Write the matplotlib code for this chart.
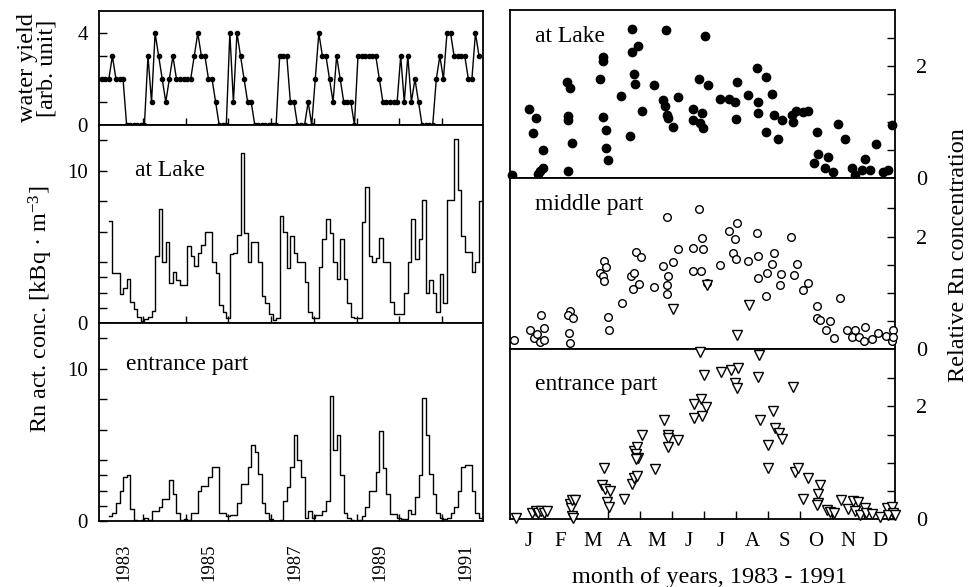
import matplotlib
matplotlib.use("Agg")
import matplotlib.pyplot as plt
import numpy as np
from matplotlib.ticker import FixedLocator, FixedFormatter

plt.rcParams['font.family'] = ['Liberation Serif', 'DejaVu Serif']
plt.rcParams['mathtext.fontset'] = 'custom'
plt.rcParams['mathtext.rm'] = 'Liberation Serif'
plt.rcParams['mathtext.it'] = 'Liberation Serif:italic'
plt.rcParams['axes.linewidth'] = 1.3

# ---------------- data ----------------
start_year = 1983
# monthly values, index 0 = Jan 1983
water_yield = [2,2,2,2, 3, 2,2,2, 0,0,0,0,0,0, 3, 1, 4, 3, 2, 1, 2, 3, 2,2,2,2,2, 3, 4, 3,3, 2,2, 1,
               0,0,0, 4, 1, 4, 3, 2, 1,1, 0,0,0,0,0,0,0, 3,3,3, 1,1, 0,0,0, 1, 0, 2, 4, 3,3, 2, 1, 3, 2,
               1,1,1, 0, 3,3,3,3,3,3, 2, 1,1,1,1,1, 3, 1, 3, 1, 2, 1, 0,0,0,0, 2, 3, 2, 4,4, 3,3,3,3, 2,2, 4, 3]

lake_start = 3
lake_conc = [6.7, 3.3, 3.3, 1.9, 2.3, 2.9, 1.4, 0.9, 0.4, 0.13, 0.25, 0.4, 0.8,
             4.4, 7.5, 4.0, 5.3, 2.65, 3.35, 2.8, 2.5, 2.5, 5.05, 4.4, 3.75, 4.6, 5.1, 6.0, 6.0,
             4.0, 3.3, 1.2, 0.7, 0.3, 4.5, 4.6, 5.75, 11.15, 5.9, 4.0, 5.3, 5.3, 4.0, 1.8, 1.3,
             0.6, 0.2, 0.3, 7.0, 6.0, 3.6, 5.7, 4.6, 4.0, 4.0, 2.7, 0.7, 0.3, 0.3, 3.7, 5.5, 6.8,
             5.9, 4.0, 2.9, 5.5, 2.9, 1.3, 0.4, 0.3, 0.3, 6.6, 8.9, 4.4, 4.0, 4.3, 5.6, 4.0, 4.0,
             1.35, 0.6, 0.6, 0.6, 2.0, 4.0, 6.85, 4.2, 5.5, 8.1, 2.0, 2.8, 2.0, 0.7, 3.25, 1.3,
             8.1, 8.1, 12.1, 8.75, 5.7, 4.65, 4.65, 3.35, 4.0, 8.0]

entrance_start = 3
entrance_conc = [0.3, 0.55, 1.2, 2.0, 2.9, 3.0, 0.8, 0.05, 0.0, 0.05, 0.2, 0.05, 0.65, 0.65,
                 0.9, 1.45, 1.45, 2.7, 1.8, 0.55, 0.05, 0.1, 0.05, 0.55, 0.55, 2.0, 2.3, 2.3,
                 2.9, 3.55, 3.55, 0.55, 0.5, 0.35, 0.4, 0.4, 1.2, 2.45, 2.45, 3.55, 5.0, 4.55,
                 3.1, 1.2, 0.55, 0.1, 0.02, 0.02, 0.05, 1.3, 2.2, 3.55, 5.65, 4.0, 2.9, 0.2,
                 0.65, 0.2, 0.4, 0.4, 0.65, 1.3, 8.2, 4.65, 5.65, 3.0, 0.55, 0.2, 0.05, 0.0,
                 0.05, 0.35, 0.9, 2.0, 2.0, 3.2, 5.9, 3.45, 1.8, 0.45, 0.45, 0.2, 0.1, 0.1,
                 0.7, 0.45, 1.55, 3.0, 8.1, 5.65, 3.1, 1.8, 0.55, 0.2, 0.1, 0.2, 0.55, 0.9,
                 2.0, 3.55, 3.65, 3.65, 2.0, 0.55, 0.2]

year_labels = ['1983', '1985', '1987', '1989', '1991']
month_labels = ['J', 'F', 'M', 'A', 'M', 'J', 'J', 'A', 'S', 'O', 'N', 'D']

# (month position 0..12, relative concentration)
rel_lake = [(-0.03,0.06),(0.52,1.23),(0.73,1.07),(0.63,0.80),(0.96,0.50),(0.81,0.08),(0.96,0.17),
            (0.86,0.12),(1.70,1.71),(1.80,1.61),(1.75,1.10),(1.75,1.04),(1.85,0.62),(1.75,0.12),
            (2.74,1.76),(2.84,2.15),(2.84,2.09),(2.84,1.08),(2.92,0.86),(2.92,0.54),(2.98,0.32),
            (3.40,1.46),(3.73,2.65),(3.73,2.24),(3.94,2.35),(3.81,1.85),(3.83,1.67),(3.69,0.75),
            (4.04,1.20),(4.43,1.65),(4.79,2.63),(4.70,1.38),(4.77,1.28),(4.82,1.13),(4.85,1.07),
            (5.01,0.90),(5.17,1.44),(5.64,1.23),(5.66,1.04),(5.82,1.77),(5.92,1.16),(5.87,0.98),
            (5.97,0.89),(6.03,2.52),(6.11,1.65),(6.49,1.40),(6.76,1.40),(6.96,1.35),(7.00,1.05),
            (7.02,1.70),(7.38,1.47),(7.66,1.95),(7.93,1.80),(7.69,1.35),(7.67,1.16),(7.92,0.81),
            (8.11,1.50),(8.19,1.13),(8.42,1.04),(8.32,0.69),(8.74,1.13),(8.86,1.19),(8.79,0.99),
            (9.10,1.17),(9.24,1.19),(9.52,0.81),(9.42,0.27),(9.55,0.42),(9.78,0.18),(9.88,0.38),
            (10.04,0.10),(10.20,0.96),(10.41,0.69),(10.62,0.18),(10.72,0.05),(11.03,0.33),
            (10.93,0.14),(11.19,0.14),(11.37,0.60),(11.61,0.10),(11.76,0.14),(11.89,0.95)]

rel_middle = [(4.83,2.35),(5.82,2.49),(6.78,2.09),(7.04,2.24),(5.92,1.98),(6.96,1.95),(7.66,2.07),
              (8.72,2.00),(5.19,1.78),(5.66,1.80),(5.95,1.77),(3.86,1.73),(4.02,1.64),(6.91,1.71),
              (8.19,1.70),(7.69,1.66),(4.72,1.48),(5.01,1.54),(6.98,1.60),(7.36,1.57),(6.49,1.49),
              (8.89,1.51),(2.86,1.57),(2.92,1.45),(2.74,1.36),(2.84,1.29),(2.86,1.21),(3.71,1.29),
              (3.81,1.35),(3.78,1.06),(3.97,1.15),(4.44,1.11),(4.85,1.30),(4.83,1.14),(4.83,0.97),
              (5.66,1.38),(5.90,1.38),(6.08,1.17),(7.67,1.26),(7.95,1.36),(8.13,1.51),(8.40,1.34),
              (8.37,1.13),(8.82,1.32),(9.08,1.05),(9.24,1.17),(7.92,0.95),(3.42,0.81),(2.98,0.57),
              (3.02,0.34),(9.52,0.77),(9.52,0.56),(9.62,0.51),(9.94,0.50),(10.25,0.91),(9.80,0.33),
              (10.07,0.19),(10.46,0.33),(10.72,0.33),(11.03,0.40),(10.62,0.22),(10.83,0.22),
              (11.01,0.15),(11.24,0.17),(11.45,0.28),(11.69,0.23),(11.87,0.14),(11.92,0.34),
              (11.92,0.22),(0.03,0.16),(0.55,0.34),(0.67,0.19),(0.78,0.26),(0.86,0.13),(0.89,0.60),
              (0.99,0.37),(0.99,0.16),(1.78,0.28),(1.80,0.10),(1.80,0.68),(1.75,0.60),(1.90,0.56)]

rel_entrance = [(0.10,0.02),(0.62,0.10),(0.73,0.15),(0.81,0.10),(0.89,0.15),(0.99,0.10),(1.07,0.15),
                (1.80,0.26),(1.83,0.19),(1.85,0.33),(1.96,0.33),(1.85,0.06),(1.90,0.02),(2.87,0.90),
                (2.81,0.60),(2.89,0.53),(3.05,0.49),(2.95,0.31),(3.02,0.21),(3.50,0.35),(3.81,1.21),
                (3.89,1.28),(3.86,1.16),(3.94,1.08),(3.86,1.07),(4.04,1.50),(3.73,0.63),(3.81,0.73),
                (3.89,0.77),(4.46,0.89),(4.75,1.76),(4.86,1.50),(4.88,1.44),(4.86,1.28),(5.19,1.40),
                (5.69,2.04),(5.89,2.14),(6.07,1.99),(5.69,1.79),(5.92,1.83),(5.99,2.55),(5.87,2.96),
                (6.53,2.62),(6.84,2.64),(7.07,2.69),(6.96,2.41),(7.01,2.32),(7.72,2.91),(7.69,2.53),
                (7.74,1.76),(8.16,1.91),(8.21,1.61),(8.34,1.52),(8.44,1.43),(7.99,1.31),(7.99,0.90),
                (8.79,2.35),(8.84,0.84),(8.94,0.91),(9.26,0.73),(9.62,0.61),(9.08,0.35),(9.55,0.44),
                (9.57,0.28),(9.52,0.25),(9.83,0.16),(9.94,0.13),(10.07,0.10),(10.28,0.33),(10.49,0.17),
                (10.67,0.32),(10.80,0.30),(10.72,0.14),(10.87,0.07),(11.03,0.19),(11.06,0.10),
                (11.24,0.08),(11.50,0.04),(11.71,0.19),(11.87,0.22),(11.92,0.10),(11.74,0.07),
                (11.97,0.07),(5.01,3.73),(6.08,4.16),(7.40,3.80),(7.04,3.26)]

# ---------------- figure ----------------
W, H = 969, 587
fig = plt.figure(figsize=(W / 100, H / 100), dpi=100)
fig.patch.set_facecolor('white')


def add_px(x0, y0, x1, y1):
    return fig.add_axes([x0 / W, 1 - y1 / H, (x1 - x0) / W, (y1 - y0) / H])


TICK_FS = 15
LBL_FS = 17.5
IN_FS = 17

ax_wy = add_px(99, 11, 483, 125)
ax_lk = add_px(99, 125, 483, 323)
ax_en = add_px(99, 323, 483, 521)
ax_rl = add_px(510, 10, 895, 178)
ax_rm = add_px(510, 178, 895, 349)
ax_re = add_px(510, 349, 895, 519)


def month_x(start, n):
    return start_year + (np.arange(start, start + n) - 0.6) / 12.0


# water yield
xw = month_x(0, len(water_yield))
ax_wy.plot(xw, water_yield, '-', color='k', lw=1.0, marker='o', ms=3, clip_on=True)
ax_wy.set_ylim(0, 4.96)
ax_wy.yaxis.set_major_locator(FixedLocator([0, 1, 2, 3, 4]))
ax_wy.yaxis.set_major_formatter(FixedFormatter(['0', '', '', '', '4']))

# step series
for ax, start, vals in [(ax_lk, lake_start, lake_conc), (ax_en, entrance_start, entrance_conc)]:
    xs = month_x(start, len(vals) + 1)
    ys = list(vals) + [vals[-1]]
    ax.step(xs, ys, where='post', color='k', lw=1.0)
    ax.set_ylim(0, 13.0)
    ax.yaxis.set_major_locator(FixedLocator([0, 1, 2, 3, 4, 6, 8, 10, 12]))
    ax.yaxis.set_major_formatter(FixedFormatter(['0', '', '', '', '', '', '', '10', '']))

for ax in (ax_wy, ax_lk, ax_en):
    ax.set_xlim(1982.97, 1991.96)
    ax.xaxis.set_major_locator(FixedLocator(list(range(1984, 1992))))
    ax.tick_params(axis='x', which='major', direction='in', length=5, width=1.0, labelbottom=False)
    ax.tick_params(axis='y', which='major', direction='in', length=6, width=1.0,
                   labelsize=TICK_FS, pad=8)

ax_en.xaxis.set_minor_locator(FixedLocator([int(y) + 0.55 for y in year_labels]))
ax_en.xaxis.set_minor_formatter(FixedFormatter(year_labels))
ax_en.tick_params(axis='x', which='minor', length=0, labelsize=13.5, pad=16, labelrotation=90)

ax_lk.text(0.094, 0.742, 'at Lake', transform=ax_lk.transAxes, fontsize=IN_FS, va='baseline')
ax_en.text(0.070, 0.763, 'entrance part', transform=ax_en.transAxes, fontsize=IN_FS, va='baseline')

# right panels
panels = [(ax_rl, rel_lake, dict(marker='o', ms=6, mfc='k', mec='k'), 2.99, 'at Lake', 0.808),
          (ax_rm, rel_middle, dict(marker='o', ms=5.5, mfc='white', mec='k', mew=1.0), 3.04,
           'middle part', 0.813),
          (ax_re, rel_entrance, dict(marker='v', ms=6.5, mfc='white', mec='k', mew=1.0), 3.02,
           'entrance part', 0.759)]
for ax, pts, style, ytop, title, ty in panels:
    m = [p[0] for p in pts]
    v = [p[1] for p in pts]
    ax.plot(m, v, linestyle='none', clip_on=False, zorder=3, **style)
    ax.set_xlim(-0.08, 11.97)
    ax.set_ylim(0, ytop)
    ax.yaxis.tick_right()
    ax.yaxis.set_major_locator(FixedLocator([0, 0.5, 1, 1.5, 2, 2.5]))
    ax.yaxis.set_major_formatter(FixedFormatter(['0', '', '', '', '2', '']))
    ax.tick_params(axis='y', direction='in', length=6, width=1.0, labelsize=16, pad=15)
    ax.set_xticks([])
    ax.text(0.066, ty, title, transform=ax.transAxes, fontsize=IN_FS, va='baseline')

ax_re.xaxis.set_major_locator(FixedLocator(list(range(1, 12))))
ax_re.xaxis.set_minor_locator(FixedLocator([i + 0.5 for i in range(12)]))
ax_re.xaxis.set_minor_formatter(FixedFormatter(month_labels))
ax_re.tick_params(axis='x', which='major', direction='in', length=6, width=1.0, labelbottom=False)
ax_re.tick_params(axis='x', which='minor', length=0, labelsize=TICK_FS, pad=9)

# axis labels
fig.text(37 / W, 1 - 68 / H, 'water yield\n[arb. unit]', rotation=90, ha='center', va='center',
         fontsize=LBL_FS, linespacing=0.9)
fig.text(41 / W, 1 - 309 / H, 'Rn act. conc. [kBq · $\\mathregular{m^{-3}}$]', rotation=90,
         ha='center', va='center', fontsize=LBL_FS)
fig.text(958 / W, 1 - 255 / H, 'Relative Rn concentration', rotation=90, ha='center',
         va='center', fontsize=LBL_FS)
fig.text(710 / W, 1 - 577 / H, 'month of years, 1983 - 1991', ha='center', va='center',
         fontsize=LBL_FS)

fig.savefig('out.png', dpi=100, facecolor='white')
